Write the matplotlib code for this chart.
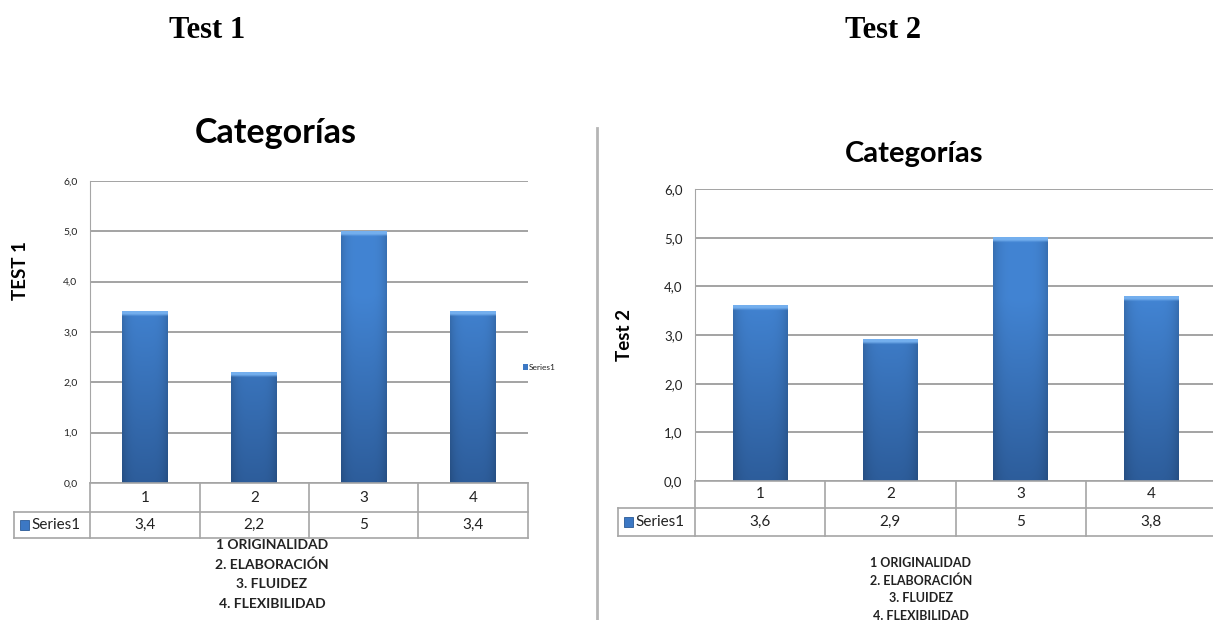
import numpy as np
import matplotlib.pyplot as plt
from matplotlib.lines import Line2D
from matplotlib.patches import Rectangle

W, H = 1213, 620

categories = ["1", "2", "3", "4"]
test1_values = [3.4, 2.2, 5, 3.4]
test2_values = [3.6, 2.9, 5, 3.8]
y_ticks = [0, 1, 2, 3, 4, 5, 6]
series_name = "Series1"
category_notes = ["1 ORIGINALIDAD", "2. ELABORACIÓN", "3. FLUIDEZ", "4. FLEXIBILIDAD"]

SANS = ["Lato", "DejaVu Sans"]
GRID = "#8a8a8a"
CELL = "#a6a6a6"
BLUE = "#3a78c4"


def fx(px):
    return px / W


def fy(py):
    return 1 - py / H


def comma(v, fmt="{:g}"):
    return fmt.format(v).replace(".", ",")


def shade_bars(ax, bars, px_per_unit):
    # vertical gradient with a light bevel on top, darker side edges
    top_c = np.array([0x42, 0x84, 0xd3]) / 255
    bot_c = np.array([0x2d, 0x5d, 0x9b]) / 255
    cap_c = np.array([0x74, 0xaf, 0xee]) / 255
    cap = 5.0 / px_per_unit
    for b in bars:
        x0, w, h = b.get_x(), b.get_width(), b.get_height()
        ys = np.linspace(0, h, 400)[:, None]
        xs = np.linspace(0, 1, 80)[None, :]
        t = np.clip(ys / 6.0 * 1.6, 0, 1)
        base = bot_c + (top_c - bot_c) * t[..., None]
        base = np.broadcast_to(base, (400, 80, 3)).copy()
        edge = 1 - 0.16 * np.abs(2 * xs - 1) ** 4
        img = base * edge[..., None]
        k = np.clip((ys - (h - cap)) / (0.5 * cap), 0, 1)
        k = np.broadcast_to(k, (400, 80))[..., None]
        img = img * (1 - k) + cap_c * k
        ax.imshow(img, origin="lower", extent=(x0, x0 + w, 0, h), aspect="auto",
                  clip_path=b, clip_on=True, zorder=3, interpolation="bilinear")


def draw_chart(fig, values, box, table_left, row1, row2, tick_size, cell_size,
               title, title_xy, title_size, ylabel, ylabel_xy, ylabel_size,
               notes_xy, notes_step, notes_size, legend_xy=None):
    left, top, right, bottom = box
    ax = fig.add_axes([fx(left), fy(bottom), fx(right - left), fy(top) - fy(bottom)])
    n = len(values)
    x = np.arange(n)
    bars = ax.bar(x, values, width=0.42, color=BLUE, edgecolor="none", zorder=2)
    shade_bars(ax, bars, (bottom - top) / 6.0)
    ax.set_xlim(-0.5, n - 0.5)
    ax.set_ylim(0, 6)
    ax.set_yticks(y_ticks)
    ax.set_yticklabels([comma(v, "{:.1f}") for v in y_ticks], fontsize=tick_size,
                       family=SANS, color="#222222")
    ax.tick_params(axis="y", length=0, pad=9)
    ax.set_xticks([])
    ax.grid(axis="y", color=GRID, lw=1.1, zorder=1)
    for s in ["top", "right", "bottom"]:
        ax.spines[s].set_visible(False)
    ax.spines["left"].set_color(CELL)
    ax.set_facecolor("none")

    # data table under the plot
    colw = (right - left) / n
    lines = [
        ([left, right], [bottom, bottom]),
        ([table_left, right], [row1, row1]),
        ([table_left, right], [row2, row2]),
        ([table_left, table_left], [row1, row2]),
        ([left, left], [bottom, row2]),
    ]
    for i in range(1, n + 1):
        xb = left + i * colw
        lines.append(([xb, xb], [bottom, row2]))
    for xs_, ys_ in lines:
        fig.add_artist(Line2D([fx(v) for v in xs_], [fy(v) for v in ys_],
                              color=CELL, lw=1.2, transform=fig.transFigure))
    for i, (cat, v) in enumerate(zip(categories, values)):
        cx = left + (i + 0.5) * colw
        fig.text(fx(cx), fy((bottom + row1) / 2), cat, ha="center", va="center",
                 fontsize=cell_size, family=SANS, color="#222222")
        fig.text(fx(cx), fy((row1 + row2) / 2), comma(v), ha="center", va="center",
                 fontsize=cell_size, family=SANS, color="#222222")
    ky = (row1 + row2) / 2
    fig.add_artist(Rectangle((fx(table_left + 6), fy(ky + 5)), fx(9), fy(0) - fy(10),
                             facecolor="#3c78c4", edgecolor="#2a5a96", lw=0.6,
                             transform=fig.transFigure))
    fig.text(fx(table_left + 17), fy(ky), series_name, ha="left", va="center",
             fontsize=cell_size, family=SANS, color="#222222")

    fig.text(fx(title_xy[0]), fy(title_xy[1]), title, ha="center", va="center",
             fontsize=title_size, fontweight="bold", family=SANS)
    fig.text(fx(ylabel_xy[0]), fy(ylabel_xy[1]), ylabel, ha="center", va="center",
             rotation=90, fontsize=ylabel_size, fontweight="bold", family=SANS)
    for k, note in enumerate(category_notes):
        fig.text(fx(notes_xy[0]), fy(notes_xy[1] + k * notes_step), note,
                 ha="center", va="center", fontsize=notes_size, fontweight="bold",
                 family=SANS, color="#222222")
    if legend_xy is not None:
        lx, ly = legend_xy
        fig.add_artist(Rectangle((fx(lx), fy(ly + 3)), fx(5), fy(0) - fy(6),
                                 facecolor="#3c78c4", edgecolor="none",
                                 transform=fig.transFigure))
        fig.text(fx(lx + 6), fy(ly), series_name, ha="left", va="center",
                 fontsize=6, family=SANS, color="#222222")
    return ax


fig = plt.figure(figsize=(W / 100, H / 100), dpi=100)

fig.text(fx(207), fy(30), "Test 1", ha="center", va="center", fontsize=22,
         fontweight="bold", family="Liberation Serif")
fig.text(fx(883), fy(30), "Test 2", ha="center", va="center", fontsize=22,
         fontweight="bold", family="Liberation Serif")

draw_chart(fig, test1_values, (90, 181, 528, 483), 14, 512, 538,
           tick_size=7.5, cell_size=11,
           title="Categorías", title_xy=(276, 133), title_size=24.5,
           ylabel="TEST 1", ylabel_xy=(21, 271), ylabel_size=13.5,
           notes_xy=(272, 545), notes_step=19.7, notes_size=10,
           legend_xy=(523, 367))

draw_chart(fig, test2_values, (695, 189, 1216, 481), 618, 508, 536,
           tick_size=9.5, cell_size=11,
           title="Categorías", title_xy=(914, 154), title_size=21,
           ylabel="Test 2", ylabel_xy=(625, 335), ylabel_size=13.5,
           notes_xy=(921, 563), notes_step=17.5, notes_size=9)

# divider between the two panels
fig.add_artist(Line2D([fx(597), fx(597)], [fy(128), fy(620)], color="#b5b5b5",
                      lw=2, transform=fig.transFigure))

fig.savefig("out.png", dpi=100)
